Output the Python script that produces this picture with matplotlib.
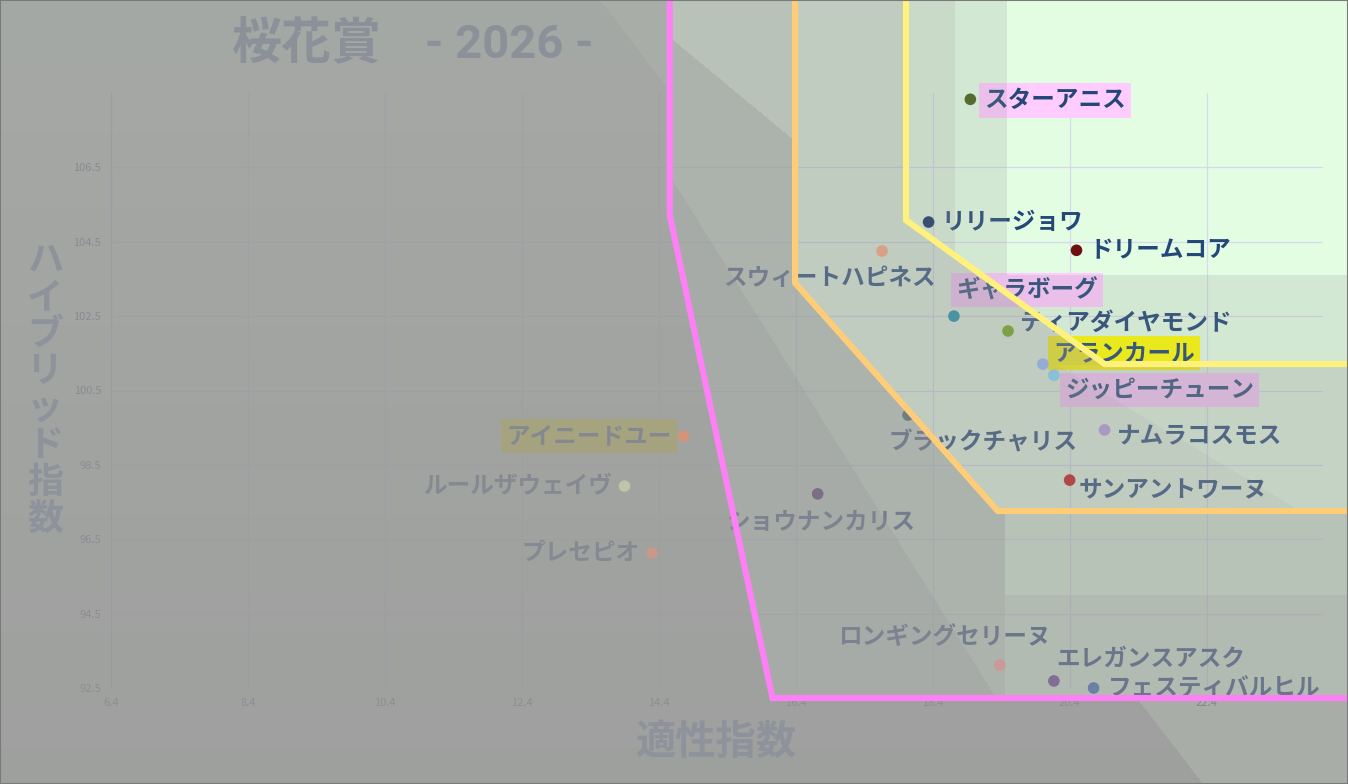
import numpy as np
import matplotlib
matplotlib.use("Agg")
import matplotlib.pyplot as plt
from matplotlib.path import Path
from matplotlib.patches import Rectangle

plt.rcParams['font.family'] = ['Noto Sans CJK JP', 'DejaVu Sans']

# ---------------- data ----------------
names = ["スターアニス", "リリージョワ", "ドリームコア", "スウィートハピネス", "ギャラボーグ",
         "ティアダイヤモンド", "アランカール", "ジッピーチューン", "ブラックチャリス", "ナムラコスモス",
         "サンアントワーヌ", "ショウナンカリス", "アイニードユー", "ルールザウェイヴ", "プレセピオ",
         "ロンギングセリーヌ", "エレガンスアスク", "フェスティバルヒル"]
aptitude = [18.95, 18.34, 20.50, 17.66, 18.71, 19.50, 20.01, 20.17, 18.04, 20.91,
            20.40, 16.72, 14.76, 13.90, 14.30, 19.38, 20.17, 20.75]
hybrid = [108.33, 105.03, 104.27, 104.25, 102.50, 102.10, 101.21, 100.91, 99.84, 99.44,
          98.09, 97.72, 99.27, 97.93, 96.13, 93.12, 92.69, 92.50]

x_ticks = [6.4, 8.4, 10.4, 12.4, 14.4, 16.4, 18.4, 20.4, 22.4]
y_ticks = [92.5, 94.5, 96.5, 98.5, 100.5, 102.5, 104.5, 106.5]

# threshold boundary lines (data coordinates)
pink_x = [14.56, 14.56, 16.06, 24.8]
pink_y = [111.5, 105.21, 92.23, 92.23]
orange_x = [16.39, 16.39, 19.35, 24.8]
orange_y = [111.5, 103.39, 97.26, 97.26]
yellow_x = [18.01, 18.01, 20.91, 24.8]
yellow_y = [111.5, 105.08, 101.21, 101.21]

# ---------------- styles ----------------
dot_colors = ['#556b2f', '#3b4e70', '#6e1010', '#d9a086', '#4a93a3', '#80a048', '#94acd6',
              '#8ac0d6', '#707e84', '#a898c4', '#b04848', '#7c6e84', '#d49478', '#c0c4a8',
              '#c89888', '#cc9898', '#806e94', '#6a80a4']
# (dx px, dy px, ha)
label_pos = [(14, -1, 'left'), (13, 0, 'left'), (13, 0, 'left'), (-53, -27, 'center'),
             (2, 26, 'left'), (12, 8, 'left'), (10, 11, 'left'), (11, -15, 'left'),
             (75, -28, 'center'), (12, -6, 'left'), (9, -10, 'left'), (3, -28, 'center'),
             (-12, 0, 'right'), (-13, 0, 'right'), (-12, 0, 'right'), (-55, 28, 'center'),
             (2, 23, 'left'), (14, 0, 'left')]
label_box = {"スターアニス": '#ffccff', "ギャラボーグ": '#ffccff', "アランカール": '#ffff00',
             "ジッピーチューン": '#ffccff', "アイニードユー": '#ffff00'}

W, H = 1348, 784
L, R, T, B = 111, 1323, 93, 688
NAVY = '#234878'

fig = plt.figure(figsize=(W / 100, H / 100), dpi=100, facecolor='#e3fde3')
pos = [L / W, 1 - B / H, (R - L) / W, (B - T) / H]
ax = fig.add_axes(pos)
ax.set_facecolor('none')
ax.set_xlim(6.4, 24.1)
ax.set_ylim(92.5, 108.5)
ax.set_xticks(x_ticks)
ax.set_yticks(y_ticks)
ax.set_xticklabels([f"{v:.1f}" for v in x_ticks])
ax.set_yticklabels([f"{v:.1f}" for v in y_ticks])
ax.tick_params(length=0, labelsize=8, labelcolor='#4a5a7a', pad=7)
ax.grid(True, color='#d4d9ee', lw=0.9)
ax.set_axisbelow(True)
for s in ['top', 'right', 'bottom']:
    ax.spines[s].set_visible(False)
ax.spines['left'].set_color('#b8c0dc')

for i, n in enumerate(names):
    dx, dy, ha = label_pos[i]
    kw = {}
    if n in label_box:
        kw['bbox'] = dict(boxstyle='square,pad=0.22', fc=label_box[n], ec='none')
    ax.annotate(n, (aptitude[i], hybrid[i]), xytext=(dx, dy), textcoords='offset pixels',
                ha=ha, va='center', fontsize=17, color=NAVY, fontweight='bold', zorder=4, **kw)

# ---------------- translucent background overlay ----------------
def to_px(xs, ys):
    p = ax.transData.transform(np.column_stack([xs, ys]))
    p[:, 1] = H - p[:, 1]
    return p

def zone(xs, ys):
    p = to_px(xs, ys)
    poly = np.vstack([p, [W + 200, p[-1, 1]], [W + 200, -200], [p[0, 0], -200]])
    return poly

Xg, Yg = np.meshgrid(np.arange(W) + 0.5, np.arange(H) + 0.5)
pts = np.column_stack([Xg.ravel(), Yg.ravel()])
Zp = Path(zone(pink_x, pink_y)).contains_points(pts).reshape(H, W)
Zo = Path(zone(orange_x, orange_y)).contains_points(pts).reshape(H, W)
Zy = Path(zone(yellow_x, yellow_y)).contains_points(pts).reshape(H, W)

A = 0.81 + 0.08 * Yg / H
A[Yg < (Xg - 600) * 1.3] = 0.76
A[Zp] = 0.78
A[Zp & (Xg > 560 + 490 * Yg / 784)] = 0.71
A[Zp & (Yg < (Xg - 625) * 0.83)] = 0.56
A[Zp & (Xg > 1005) & (Yg > 511)] = 0.55
A[Zp & (Xg > 1005) & (Yg > 595)] = 0.63
A[Zo] = 0.47
A[Zo & (Xg > 1000) & (Yg > 365)] = 0.40
A[Zo & (Xg > 1000) & (Yg > 365 + (Xg - 1057) * 0.6)] = 0.47
A[Zy] = 0.33
A[Zy & (Xg > 955)] = 0.2
A[(Xg > 1007) & (Yg < 365) & Zy] = 0.2
A[(Xg > 1007) & (Yg < 275)] = 0.0

rgba = np.zeros((H, W, 4))
rgba[..., 0] = 150 / 255
rgba[..., 1] = 148 / 255
rgba[..., 2] = 150 / 255
rgba[..., 3] = A
ov = fig.add_axes([0, 0, 1, 1], zorder=5)
ov.imshow(rgba, extent=(0, W, H, 0), interpolation='nearest', aspect='auto')
ov.set_xlim(0, W)
ov.set_ylim(H, 0)
ov.set_axis_off()
ov.patch.set_alpha(0)

# ---------------- top layer: dots and threshold lines ----------------
lx = fig.add_axes(pos, zorder=10)
lx.set_xlim(ax.get_xlim())
lx.set_ylim(ax.get_ylim())
lx.set_axis_off()
lx.patch.set_alpha(0)
lx.scatter(aptitude, hybrid, s=70, c=dot_colors, edgecolors='none', zorder=3, clip_on=False)
for xs, ys, c in [(pink_x, pink_y, '#ff80f6'), (orange_x, orange_y, '#ffcc78'),
                  (yellow_x, yellow_y, '#fff27c')]:
    lx.plot(xs, ys, color=c, lw=4.4, clip_on=False, solid_joinstyle='miter', zorder=4)

# ---------------- titles ----------------
fig.text(232 / W, 1 - 45 / H, "桜花賞", fontsize=36, fontweight='bold', color='#8b9099',
         ha='left', va='center', zorder=20)
fig.text(425 / W, 1 - 45 / H, "- 2026 -", fontsize=34, fontweight='bold', color='#8b9099',
         ha='left', va='center', zorder=20,
         family=['Liberation Sans Narrow', 'Roboto', 'DejaVu Sans'])
fig.text(716 / W, 1 - 742 / H, "適性指数", fontsize=29, fontweight='bold', color='#8e939b',
         ha='center', va='center', zorder=20)
fig.text(45 / W, 1 - 390 / H, "\n".join("ハイブリッド指数"), fontsize=26, fontweight='bold',
         color='#8e939b', ha='center', va='center', linespacing=1.0, zorder=20)

fig.add_artist(Rectangle((0, 0), 1, 1, transform=fig.transFigure, fill=False,
                         ec='#7a7a7a', lw=1.5, zorder=30))

fig.savefig("out.png", dpi=100, facecolor=fig.get_facecolor())
